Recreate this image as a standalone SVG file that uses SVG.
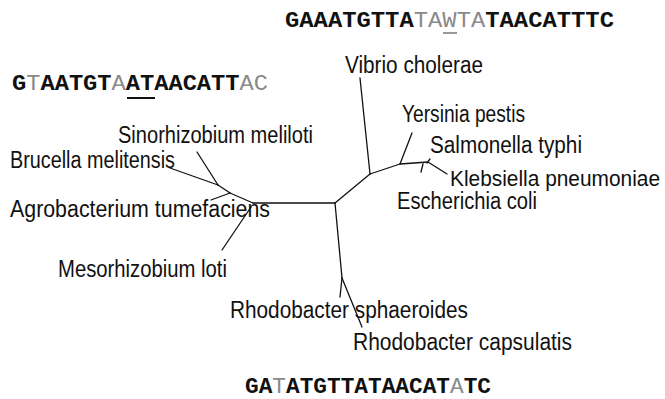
<svg xmlns="http://www.w3.org/2000/svg" width="665" height="399" viewBox="0 0 665 399">
<style>
.lbl{font-family:"Liberation Sans",Arial,sans-serif;font-size:23px;fill:#111;}
.seq{font-family:"Liberation Mono","Courier New",monospace;font-size:22px;font-weight:bold;fill:#111;}
.g{font-weight:normal;fill:#8a8a8a;}
.br{stroke:#111;stroke-width:1.3;fill:none;stroke-linecap:round;stroke-linejoin:round;}
</style>
<rect width="665" height="399" fill="#fff"/>
<g id="connectors" class="br">
<path d="M253,203 L335,203"/>
<path d="M335,203 L370,174"/>
<path d="M370,174 L360,78"/>
<path d="M370,174 L400,164"/>
<path d="M400,164 L412,133"/>
<path d="M400,164 L428,162 L447,174"/>
<path d="M423,164 L421,172"/>
<path d="M427,163 L430,159"/>
<path d="M335,203 L342,278"/>
<path d="M342,278 L340,297"/>
<path d="M342,278 L362,327"/>
<path d="M253,203 L230,193"/>
<path d="M230,193 L211,200"/>
<path d="M230,193 L218,185"/>
<path d="M218,185 L170,168"/>
<path d="M218,185 L197,152"/>
<path d="M251,207 L222,250"/>
</g>
<g id="seq-top"><text class="seq" x="285" y="27" textLength="329" lengthAdjust="spacingAndGlyphs">GAAATGTTA<tspan class="g">TAWTA</tspan>TAACATTTC</text><line x1="443" y1="33" x2="457" y2="33" stroke="#777" stroke-width="1.5"/></g>
<g id="seq-left"><text class="seq" x="12" y="90" textLength="256" lengthAdjust="spacingAndGlyphs">G<tspan class="g">T</tspan>AATGT<tspan class="g">A</tspan>ATAACATT<tspan class="g">AC</tspan></text><line x1="127" y1="98" x2="155" y2="98" stroke="#111" stroke-width="2"/></g>
<g id="seq-bottom"><text class="seq" x="245" y="393" textLength="246" lengthAdjust="spacingAndGlyphs">GA<tspan class="g">T</tspan>ATGTTATAACAT<tspan class="g">A</tspan>TC</text></g>
<g id="n-sinorhizobium"><text class="lbl" x="118" y="143" textLength="195" lengthAdjust="spacingAndGlyphs">Sinorhizobium meliloti</text></g>
<g id="n-brucella"><text class="lbl" x="10" y="168" textLength="165" lengthAdjust="spacingAndGlyphs">Brucella melitensis</text></g>
<g id="n-agrobacterium"><text class="lbl" x="10" y="217" textLength="260" lengthAdjust="spacingAndGlyphs">Agrobacterium tumefaciens</text></g>
<g id="n-mesorhizobium"><text class="lbl" x="58" y="277" textLength="169" lengthAdjust="spacingAndGlyphs">Mesorhizobium loti</text></g>
<g id="n-vibrio"><text class="lbl" x="345" y="73" textLength="138" lengthAdjust="spacingAndGlyphs">Vibrio cholerae</text></g>
<g id="n-yersinia"><text class="lbl" x="402" y="122" textLength="123" lengthAdjust="spacingAndGlyphs">Yersinia pestis</text></g>
<g id="n-salmonella"><text class="lbl" x="430" y="153" textLength="152" lengthAdjust="spacingAndGlyphs">Salmonella typhi</text></g>
<g id="n-klebsiella"><text class="lbl" x="450" y="186" style="font-size:21.5px" textLength="210" lengthAdjust="spacingAndGlyphs">Klebsiella pneumoniae</text></g>
<g id="n-escherichia"><text class="lbl" x="397" y="209" textLength="140" lengthAdjust="spacingAndGlyphs">Escherichia coli</text></g>
<g id="n-rsphaeroides"><text class="lbl" x="230" y="318" textLength="238" lengthAdjust="spacingAndGlyphs">Rhodobacter sphaeroides</text></g>
<g id="n-rcapsulatis"><text class="lbl" x="353" y="350" textLength="219" lengthAdjust="spacingAndGlyphs">Rhodobacter capsulatis</text></g>
</svg>
